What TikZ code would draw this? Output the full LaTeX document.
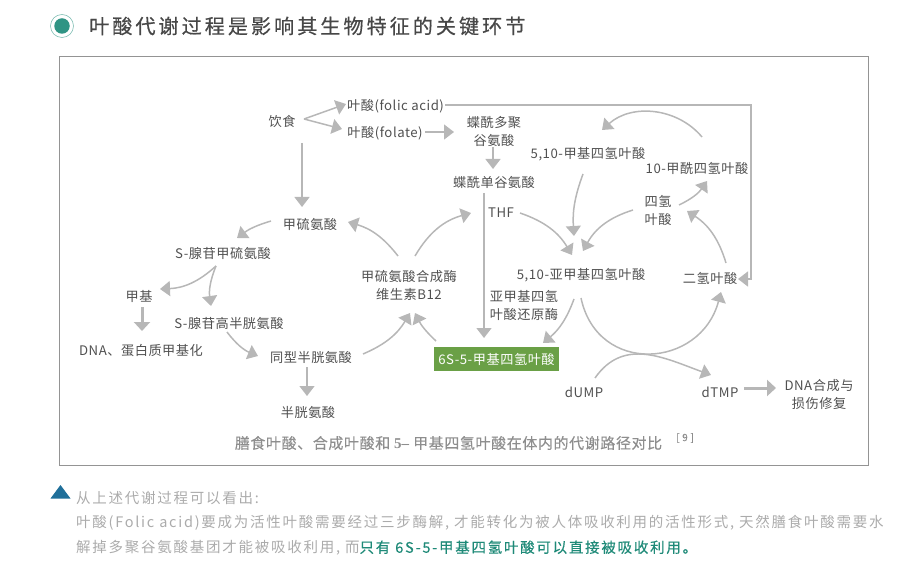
\documentclass[tikz,border=0pt]{standalone}
\usepackage{fontspec}
\usetikzlibrary{arrows.meta}
\setmainfont{Noto Sans CJK SC}
\newfontfamily\titlefont[LetterSpace=15,FakeBold=0.5]{Noto Sans CJK SC}
\newfontfamily\labelfont[LetterSpace=4]{Noto Sans CJK SC}
\newfontfamily\capfont[LetterSpace=4,FakeBold=0.2]{Noto Sans CJK SC}
\newfontfamily\footfont[LetterSpace=12]{Noto Sans CJK SC}
\newfontfamily\keyfont[LetterSpace=12,FakeBold=0.4]{Noto Sans CJK SC}
\newfontfamily\serifb{Liberation Serif}
\definecolor{arrowgrey}{HTML}{B7B7B7}
\definecolor{textgrey}{HTML}{505050}
\definecolor{capgrey}{HTML}{8E8E8E}
\definecolor{footgrey}{HTML}{ABABAB}
\definecolor{teal}{HTML}{2F9484}
\definecolor{keygreen}{HTML}{1F8A78}
\definecolor{boxgreen}{HTML}{6AA046}
\definecolor{triblue}{HTML}{1F6F9A}
\tikzset{
  lbl/.style={inner sep=0pt,align=center,text=textgrey,font=\labelfont\fontsize{13.2}{18}\selectfont},
  flow/.style={draw=arrowgrey,line width=1.5pt,transform canvas={yshift=1pt},-{Triangle[length=10pt,width=15pt,fill=arrowgrey]}},
  thick flow/.style={draw=arrowgrey,line width=3pt,transform canvas={yshift=1pt},-{Triangle[length=9pt,width=16pt,fill=arrowgrey]}},
  footline/.style={inner sep=0pt,anchor=west,text=footgrey,font=\footfont\fontsize{14.5}{16}\selectfont},
}
\begin{document}
\begin{tikzpicture}[x=1pt,y=-1pt]
\useasboundingbox (0,0) rectangle (902,572);
% heading
\node[circle,draw=teal!60,line width=0.6pt,minimum size=23pt,inner sep=0pt] (ring) at (62,26) {};
\node[circle,fill=teal,minimum size=15.5pt,inner sep=0pt] (dot) at (ring.center) {};
\node[inner sep=0pt,anchor=west,text=black!72,font=\titlefont\fontsize{20.1}{24}\selectfont] (title) at (89,26) {叶酸代谢过程是影响其生物特征的关键环节};
% frame
\node[draw=black!42,line width=1pt,minimum width=809pt,minimum height=409pt,inner sep=0pt] (frame) at (464,261) {};
% nodes
\node[lbl] (diet) at (282,121) {饮食};
\node[lbl] (folic) at (395.5,106) {叶酸(folic acid)};
\node[lbl] (folate) at (385,133) {叶酸(folate)};
\node[lbl] (poly) at (494,131) {蝶酰多聚\\谷氨酸};
\node[lbl] (mono) at (494,182) {蝶酰单谷氨酸};
\node[lbl] (mefour) at (588,154) {5,10-甲基四氢叶酸};
\node[lbl] (formyl) at (697,168) {10-甲酰四氢叶酸};
\node[lbl] (thfa) at (658,210) {四氢\\叶酸};
\node[lbl] (thf) at (501,213) {THF};
\node[lbl] (methylene) at (581,275) {5,10-亚甲基四氢叶酸};
\node[lbl] (dhf) at (710,278) {二氢叶酸};
\node[lbl] (met) at (310,224) {甲硫氨酸};
\node[lbl] (sam) at (223,253) {S-腺苷甲硫氨酸};
\node[lbl] (enzyme) at (409,285) {甲硫氨酸合成酶\\维生素B12};
\node[lbl] (methyl) at (139,296) {甲基};
\node[lbl] (sah) at (229,323) {S-腺苷高半胱氨酸};
\node[lbl] (dnam) at (141,351) {DNA、蛋白质甲基化};
\node[lbl] (hcy) at (311,357) {同型半胱氨酸};
\node[lbl] (cys) at (308,412) {半胱氨酸};
\node[lbl] (reductase) at (524,305) {亚甲基四氢\\叶酸还原酶};
\node[lbl,fill=boxgreen,text=white,minimum width=125pt,minimum height=24pt] (sixs) at (496.5,359) {6S-5-甲基四氢叶酸};
\node[lbl] (dump) at (584,392) {dUMP};
\node[lbl] (dtmp) at (720,392) {dTMP};
\node[lbl] (repair) at (819,394) {DNA合成与\\损伤修复};
\coordinate (corner) at (751,106);
% connectors
\draw[flow] ([shift={(22,-1)}]diet.center) -- ([shift={(-49.5,-1)}]folic.center);
\draw[flow] ([shift={(22,-1)}]diet.center) -- ([shift={(-43,-3)}]folate.center);
\draw[flow] ([shift={(20,23)}]diet.center) -- ([shift={(-8,-16)}]met.center);
\draw[flow] ([shift={(49.5,0)}]folic.center) -- (corner) |- ([shift={(28,2)}]dhf.center);
\draw[flow] ([shift={(40,0)}]folate.center) -- ([shift={(-40,2)}]poly.center);
\draw[flow] ([shift={(-1,17)}]poly.center) -- ([shift={(-1,-12)}]mono.center);
\draw[flow] ([shift={(-10,12)}]mono.center) -- ([shift={(-12.5,-20)}]sixs.center);
\draw[flow] ([shift={(19,1)}]thf.center) to[bend left=20] ([shift={(-9,-19)}]methylene.center);
\draw[flow] ([shift={(-5,21)}]mefour.center) to[bend right=12] ([shift={(-7,-38)}]methylene.center);
\draw[flow] ([shift={(-25,1)}]thfa.center) to[bend right=22] ([shift={(2,-23)}]methylene.center);
\draw[flow] ([shift={(21,-4)}]thfa.center) to[bend right=15] ([shift={(10,14)}]formyl.center);
\draw[flow] ([shift={(16,-14)}]dhf.center) to[bend right=20] ([shift={(29,2)}]thfa.center);
\draw[flow] ([shift={(5,-30)}]formyl.center) to[bend right=46] ([shift={(14,-23)}]mefour.center);
\draw[flow] ([shift={(-7,25)}]methylene.center) to[bend left=15] ([shift={(46.5,-15)}]sixs.center);
\draw[flow] ([shift={(0,24)}]methylene.center) to[out=-78,in=-105,looseness=1.45] ([shift={(11,15)}]dhf.center);
\draw[flow] ([shift={(11,-13)}]dump.center) to[out=55,in=160,looseness=1.1] ([shift={(-9,-16)}]dtmp.center);
\draw[thick flow] ([shift={(24,-3)}]dtmp.center) -- ([shift={(-43,-5)}]repair.center);
\draw[flow] ([shift={(-60.5,-17)}]sixs.center) to[bend left=10] ([shift={(6,29)}]enzyme.center);
\draw[flow] ([shift={(52,-2)}]hcy.center) to[bend right=18] ([shift={(1,29)}]enzyme.center);
\draw[flow] ([shift={(-11,-28)}]enzyme.center) to[bend right=18] ([shift={(38,-1)}]met.center);
\draw[flow] ([shift={(6,-28)}]enzyme.center) to[bend left=22] ([shift={(-30,1)}]thf.center);
\draw[flow] ([shift={(-39,-2)}]met.center) to[bend right=10] ([shift={(14,-14)}]sam.center);
\draw[flow] ([shift={(-7,14)}]sam.center) to[bend left=20] ([shift={(21,-6)}]methyl.center);
\draw[flow] ([shift={(-7,14)}]sam.center) to[bend right=15] ([shift={(-18,-16)}]sah.center);
\draw[thick flow] ([shift={(3,12)}]methyl.center) -- ([shift={(1,-19)}]dnam.center);
\draw[flow] ([shift={(-2,10)}]sah.center) to[bend right=15] ([shift={(-53,0)}]hcy.center);
\draw[flow] ([shift={(-4,11)}]hcy.center) -- ([shift={(-1,-15)}]cys.center);
% caption
\node[inner sep=0pt,text=capgrey,font=\capfont\fontsize{15}{16}\selectfont] (caption) at (448.5,443) {膳食叶酸、合成叶酸和 {\serifb\bfseries 5–} 甲基四氢叶酸在体内的代谢路径对比};
\node[inner sep=0pt,text=capgrey,font=\capfont\fontsize{10}{10}\selectfont] (ref) at (685,438) {[ 9 ]};
% footer
\fill[triblue] (60.5,485) -- (70.5,498.5) -- (50.5,498.5) -- cycle;
\node[footline] (f1) at (76,498) {从上述代谢过程可以看出:};
\node[footline] (f2) at (76,523) {叶酸(Folic acid)要成为活性叶酸需要经过三步酶解, 才能转化为被人体吸收利用的活性形式, 天然膳食叶酸需要水};
\node[footline] (f3) at (76,548) {解掉多聚谷氨酸基团才能被吸收利用, 而{\keyfont\color{keygreen}只有 6S-5-甲基四氢叶酸可以直接被吸收利用。}};
\end{tikzpicture}
\end{document}
